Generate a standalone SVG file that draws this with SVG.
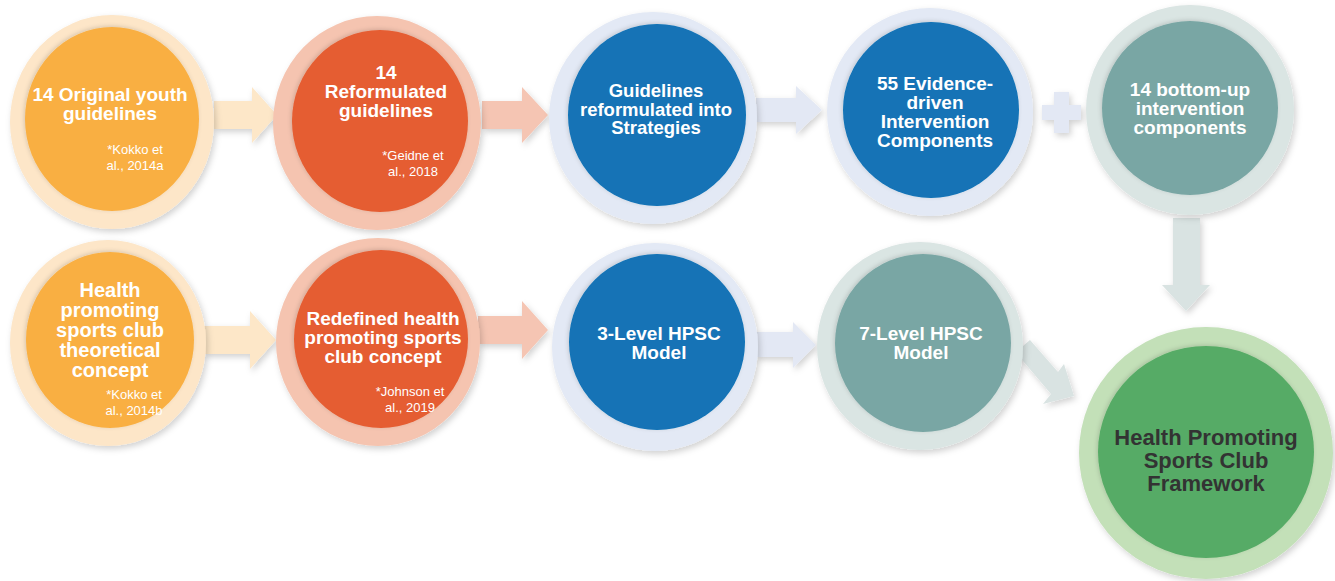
<svg xmlns="http://www.w3.org/2000/svg" width="1335" height="581" viewBox="0 0 1335 581">
<defs>
<filter id="sh" x="-20%" y="-20%" width="140%" height="140%"><feDropShadow dx="2" dy="3" stdDeviation="3" flood-color="#000" flood-opacity="0.18"/></filter>
<filter id="shi" x="-20%" y="-20%" width="140%" height="140%"><feDropShadow dx="-1" dy="-1" stdDeviation="2" flood-color="#000" flood-opacity="0.15"/></filter>
<style>
.t{font-family:"Liberation Sans",Arial,sans-serif;font-weight:bold;fill:#fff;text-anchor:middle}
.c{font-family:"Liberation Sans",Arial,sans-serif;fill:#fff;text-anchor:middle;font-size:13px}
.o1{fill:#FDE6C8}.i1{fill:#F9AF42}
.o2{fill:#F5C4B0}.i2{fill:#E55D31}
.o3{fill:#E3E9F5}.i3{fill:#1273B6}
.o4{fill:#DAE5E3}.i4{fill:#79A6A4}
.o5{fill:#C3E0B8}.i5{fill:#57AB66}
</style>
</defs>
<rect width="1335" height="581" fill="#fff"/>
<g id="connectors" filter="url(#sh)">
<path d="M214,101 H252 V87 L277,115 L252,143 V129 H214 Z" fill="#FDE7C8"/>
<path d="M482,101 H522 V87 L548,115 L522,143 V129 H482 Z" fill="#F5C5B3"/>
<path d="M756,98 H796 V86 L822,110 L796,134 V122 H756 Z" fill="#E3E8F4"/>
<path d="M1054,92 H1069 V105 H1081 V120 H1069 V133 H1054 V120 H1042 V105 H1054 Z" fill="#E3E8F4"/>
<path d="M1173,218 H1200 V285 H1210 L1186,311 L1162,285 H1173 Z" fill="#D9E3E2"/>
<path d="M204,326 H250 V311 L276,340 L250,369 V354 H204 Z" fill="#FDE7C8"/>
<path d="M478,316 H522 V301 L548,330 L522,359 V344 H478 Z" fill="#F5C5B3"/>
<path d="M756,332 H793 V322 L816,345 L793,368 V357 H756 Z" fill="#E3E8F4"/>
<path d="M1016,352 L1030,340 L1058,372 L1064,364 L1074,396 L1043,404 L1051,394 L1023,361 Z" fill="#D9E3E2"/>
</g>
<g id="n1"><ellipse class="o1" cx="112" cy="122" rx="102" ry="107" filter="url(#sh)"/><ellipse class="i1" cx="112" cy="119" rx="87" ry="92" filter="url(#shi)"/>
<text class="t" font-size="19"><tspan x="110" y="101">14 Original youth</tspan><tspan x="110" y="120">guidelines</tspan></text>
<text class="c"><tspan x="135" y="154">*Kokko et</tspan><tspan x="135" y="170">al., 2014a</tspan></text></g>
<g id="n2"><ellipse class="o2" cx="377" cy="123" rx="104" ry="107" filter="url(#sh)"/><ellipse class="i2" cx="380" cy="121" rx="88" ry="91" filter="url(#shi)"/>
<text class="t" font-size="19"><tspan x="386" y="79">14</tspan><tspan x="386" y="98">Reformulated</tspan><tspan x="386" y="117">guidelines</tspan></text>
<text class="c"><tspan x="413" y="160">*Geidne et</tspan><tspan x="413" y="176">al., 2018</tspan></text></g>
<g id="n3"><ellipse class="o3" cx="653" cy="118" rx="104" ry="106" filter="url(#sh)"/><ellipse class="i3" cx="657" cy="115" rx="89" ry="91" filter="url(#shi)"/>
<text class="t" font-size="18.5"><tspan x="656" y="97">Guidelines</tspan><tspan x="656" y="115.5">reformulated into</tspan><tspan x="656" y="134">Strategies</tspan></text></g>
<g id="n4"><ellipse class="o3" cx="930" cy="112" rx="103" ry="104" filter="url(#sh)"/><ellipse class="i3" cx="931" cy="110" rx="88" ry="88" filter="url(#shi)"/>
<text class="t" font-size="19"><tspan x="935" y="90">55 Evidence-</tspan><tspan x="935" y="109">driven</tspan><tspan x="935" y="128">Intervention</tspan><tspan x="935" y="147">Components</tspan></text></g>
<g id="n5"><ellipse class="o4" cx="1190" cy="110" rx="104" ry="105" filter="url(#sh)"/><ellipse class="i4" cx="1190" cy="108" rx="88" ry="87" filter="url(#shi)"/>
<text class="t" font-size="19"><tspan x="1190" y="96">14 bottom-up</tspan><tspan x="1190" y="115">intervention</tspan><tspan x="1190" y="134">components</tspan></text></g>
<g id="n6"><ellipse class="o1" cx="108" cy="343" rx="98" ry="103" filter="url(#sh)"/><ellipse class="i1" cx="110" cy="340" rx="84" ry="88" filter="url(#shi)"/>
<text class="t" font-size="20"><tspan x="110" y="297">Health</tspan><tspan x="110" y="317">promoting</tspan><tspan x="110" y="337">sports club</tspan><tspan x="110" y="357">theoretical</tspan><tspan x="110" y="377">concept</tspan></text>
<text class="c"><tspan x="134" y="399">*Kokko et</tspan><tspan x="134" y="415">al., 2014b</tspan></text></g>
<g id="n7"><ellipse class="o2" cx="378" cy="342" rx="102" ry="104" filter="url(#sh)"/><ellipse class="i2" cx="381" cy="339" rx="87" ry="89" filter="url(#shi)"/>
<text class="t" font-size="19"><tspan x="383" y="325">Redefined health</tspan><tspan x="383" y="344">promoting sports</tspan><tspan x="383" y="363">club concept</tspan></text>
<text class="c"><tspan x="410" y="396">*Johnson et</tspan><tspan x="410" y="412">al., 2019</tspan></text></g>
<g id="n8"><ellipse class="o3" cx="655" cy="347" rx="103" ry="104" filter="url(#sh)"/><ellipse class="i3" cx="657" cy="342" rx="88" ry="88" filter="url(#shi)"/>
<text class="t" font-size="19"><tspan x="659" y="340">3-Level HPSC</tspan><tspan x="659" y="359">Model</tspan></text></g>
<g id="n9"><ellipse class="o4" cx="920" cy="346" rx="103" ry="104" filter="url(#sh)"/><ellipse class="i4" cx="923" cy="343" rx="88" ry="89" filter="url(#shi)"/>
<text class="t" font-size="19"><tspan x="921" y="340">7-Level HPSC</tspan><tspan x="921" y="359">Model</tspan></text></g>
<g id="n10"><ellipse class="o5" cx="1206" cy="453" rx="127" ry="126" filter="url(#sh)"/><ellipse class="i5" cx="1206" cy="452" rx="108" ry="106" filter="url(#shi)"/>
<text class="t" font-size="22" style="fill:#333"><tspan x="1206" y="445">Health Promoting</tspan><tspan x="1206" y="468">Sports Club</tspan><tspan x="1206" y="491">Framework</tspan></text></g>
</svg>
